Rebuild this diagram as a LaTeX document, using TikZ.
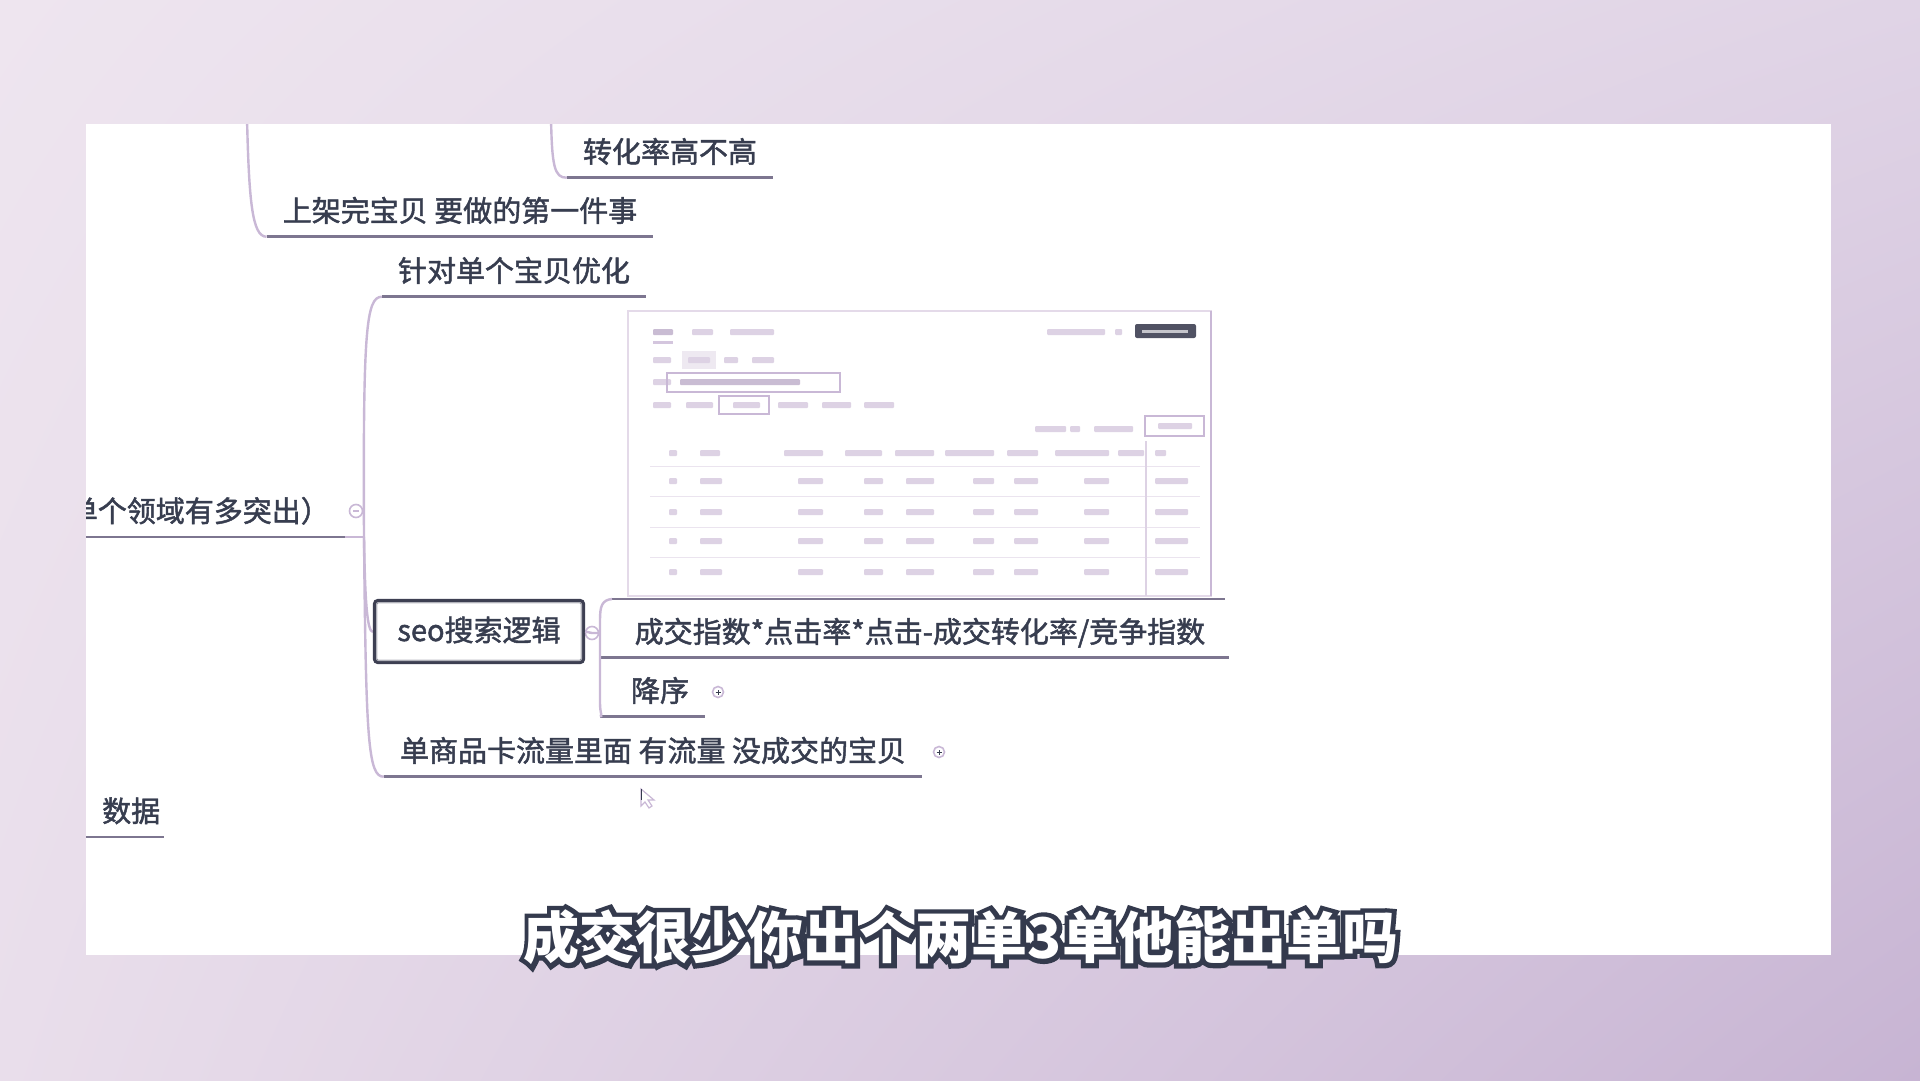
\documentclass[tikz,border=0pt]{standalone}
\usepackage{fontspec}
\newfontfamily\cjk{Noto Sans CJK SC}
\newfontfamily\cjkm{Noto Sans CJK SC}[FakeBold=1.6]
\newfontfamily\cjkout{Noto Sans CJK SC}[FakeBold=17]
\usetikzlibrary{calc,shadings}
\definecolor{txt}{HTML}{373D4F}
\definecolor{lav}{HTML}{C9B8D6}
\definecolor{ulc}{HTML}{7D7690}
\definecolor{boxc}{HTML}{3D3F52}
\definecolor{barc}{HTML}{DDD2E4}
\definecolor{bard}{HTML}{C9BCD3}
\definecolor{frame}{HTML}{E4DAE9}
\definecolor{subdark}{HTML}{343A4D}
\definecolor{bgA}{HTML}{EEE5EF}
\definecolor{bgB}{HTML}{E0D4E6}
\definecolor{bgC}{HTML}{E9DEEB}
\definecolor{bgD}{HTML}{C7B4D3}
\newcommand\sbar[3]{\fill[barc,rounded corners=1pt] (#1,#3-3) rectangle (#2,#3+3);}
\newcommand\dbar[3]{\fill[bard,rounded corners=1pt] (#1,#3-3) rectangle (#2,#3+3);}
\begin{document}
\begin{tikzpicture}[x=1pt,y=-1pt,
  mm/.style={font=\cjkm\fontsize{29}{34}\selectfont, text=txt, text height=22pt, text depth=3pt, inner xsep=16pt, inner ysep=12pt},
  ul/.style={draw=ulc, line width=2.8pt},
  br/.style={draw=lav, line width=2.4pt},
  circ/.style={circle, draw=lav, line width=1.6pt, fill=white, minimum size=13pt, inner sep=0pt},
  sub/.style={font=\cjk\bfseries\fontsize{56}{62}\selectfont, text height=43pt, text depth=0pt, inner sep=0pt}]
\useasboundingbox (0,0) rectangle (1920,1080);
% background
\shade[upper left=bgA, upper right=bgB, lower left=bgC, lower right=bgD] (0,0) rectangle (1920,1080);
\fill[white] (86,124) rectangle (1831,955);
\begin{scope}
\clip (86,124) rectangle (1831,955);
% free ends at top
\coordinate (t1) at (551,118);
\coordinate (t2) at (247,118);
% nodes
\node[mm] (n1) at (670,153) {转化率高不高};
\node[mm] (n2) at (460,212) {上架完宝贝 要做的第一件事};
\node[mm] (n3) at (514,272) {针对单个宝贝优化};
\node[mm, anchor=south east, inner xsep=15pt] (n4) at (345,537) {单个领域有多突出）};
\node[mm] (n7) at (920,633) {成交指数*点击率*点击-成交转化率/竞争指数};
\node[mm] (n8) at (660,692) {降序};
\node[mm] (n9) at (653,752) {单商品卡流量里面 有流量 没成交的宝贝};
\node[mm, anchor=south west] (n10) at (86,837) {数据};
\coordinate (j) at (364,537);
\coordinate (bx) at (600,0);
\coordinate (imgsw) at (612,599);
\coordinate (imgse) at (1225,599);
% branches
\draw[br] (t1) .. controls (552,165) and (554,178) .. (n1.south west);
\draw[br] (t2) .. controls (249,200) and (252,237) .. (n2.south west);
\draw[br] (n4.south east) -- (j);
\draw[br] (j) .. controls (363,330) and (366,297) .. (n3.south west);
\draw[br] (j) .. controls (366,740) and (368,777) .. (n9.south west);
\node[circ] (c4) at (356,511) {};
\draw[lav, line width=1.4pt] ([xshift=-3]c4.center) -- ([xshift=3]c4.center);
% underlines
\draw[ul] (n1.south west) -- (n1.south east);
\draw[ul] (n2.south west) -- (n2.south east);
\draw[ul] (n3.south west) -- (n3.south east);
\draw[ul] (n4.south west) -- (n4.south east);
\draw[ul] (n9.south west) -- (n9.south east);
\draw[ul] (n10.south west) -- ([xshift=-12]n10.south east);
\draw[ul] (n7.south west -| bx) -- ([xshift=8]n7.south east);
\draw[ul] (n8.south west -| bx) -- (n8.south east);
\draw[ul] (imgsw) -- (imgse);
% seo box and its branch
\node[circ] (sc) at (592,633) {};
\draw[lav, line width=1.4pt] ([xshift=-3]sc.center) -- ([xshift=3]sc.center);
\draw[br] (j) .. controls (365,600) and (367,632) .. (373,632);
\node[draw=boxc, line width=4.2pt, rounded corners=3pt, fill=white, minimum width=208pt, minimum height=61pt, font=\cjkm\fontsize{29}{34}\selectfont, text=txt, text height=22pt, text depth=3pt] (seo) at (479,631.5) {seo搜索逻辑};
\draw[white!60!boxc, line width=0.8pt, rounded corners=2pt] ([shift={(3.5,-3.5)}]seo.south west) rectangle ([shift={(-3.5,3.5)}]seo.north east);
\draw[br] (seo.east) -- (sc.center) -- (600,633);
\draw[br] (imgsw) .. controls (602,600) and (600,606) .. (600,620) -- (600,703) .. controls (600,714) and (603,716) .. (n8.south west -| bx);
% plus circles
\node[circ, minimum size=11pt] (p8) at (718,692) {};
\node[circ, minimum size=11pt] (p9) at (939,752) {};
\foreach \p in {p8,p9}{
  \draw[txt, line width=1pt] ([xshift=-2.5]\p.center) -- ([xshift=2.5]\p.center);
  \draw[txt, line width=1pt] ([yshift=-2.5]\p.center) -- ([yshift=2.5]\p.center);
}
% cursor
\draw[lav, fill=white, line width=1.2pt] (641,789) -- (641,806) -- (645,802) -- (649,808) -- (652,806) -- (648,800) -- (654,800) -- cycle;
\draw[subdark, line width=1pt] (641,789) -- (641,800);
% screenshot
\draw[frame, line width=2pt] (628,311) rectangle (1211,596);
\draw[lav, line width=2pt] (1211,311) -- (1211,596);
\dbar{653}{673}{332} \sbar{692}{713}{332} \sbar{730}{774}{332}
\fill[lav!80] (653,341) rectangle (673,343.5);
\sbar{1047}{1105}{332} \sbar{1115}{1122}{332}
\fill[boxc!90, rounded corners=2pt] (1135,324) rectangle (1196,338);
\fill[white!70!boxc] (1142,330) rectangle (1188,333);
\sbar{653}{671}{360}
\fill[barc!50] (682,351) rectangle (716,369);
\sbar{688}{710}{360} \sbar{724}{738}{360} \sbar{752}{774}{360}
\sbar{653}{671}{382}
\draw[lav, line width=1.5pt] (667,373) rectangle (840,392);
\dbar{680}{800}{382}
\sbar{653}{671}{405}
\sbar{686}{713}{405}
\draw[lav, line width=1.5pt] (719,396) rectangle (769,414);
\sbar{733}{760}{405} \sbar{778}{808}{405} \sbar{822}{851}{405} \sbar{864}{894}{405}
\sbar{1035}{1066}{429} \sbar{1070}{1080}{429} \sbar{1094}{1133}{429}
\draw[lav, line width=1.5pt] (1145,416) rectangle (1204,436);
\sbar{1158}{1192}{426}
\foreach \a/\b in {669/677,700/720,784/823,845/882,895/934,945/994,1007/1038,1055/1109,1118/1144,1155/1166}{\sbar{\a}{\b}{453}}
\foreach \yy in {466,496,527,557}{\draw[barc!60, line width=0.8pt] (650,\yy) -- (1200,\yy);}
\foreach \yy in {481,512,541,572}{
  \sbar{669}{677}{\yy} \sbar{700}{722}{\yy} \sbar{798}{823}{\yy} \sbar{864}{883}{\yy}
  \sbar{906}{934}{\yy} \sbar{973}{994}{\yy} \sbar{1014}{1038}{\yy} \sbar{1084}{1109}{\yy} \sbar{1155}{1188}{\yy}
}
\draw[barc, line width=1.5pt] (1146,441) -- (1146,596);
\end{scope}
% subtitle: dark emboldened copy as outline, white text on top
\node[sub, font=\cjkout\bfseries\fontsize{56}{62}\selectfont, text=subdark] (subo) at (961,937) {成交很少你出个两单3单他能出单吗};
\node[sub, text=white] (sub) at (961,937) {成交很少你出个两单3单他能出单吗};
\end{tikzpicture}
\end{document}
